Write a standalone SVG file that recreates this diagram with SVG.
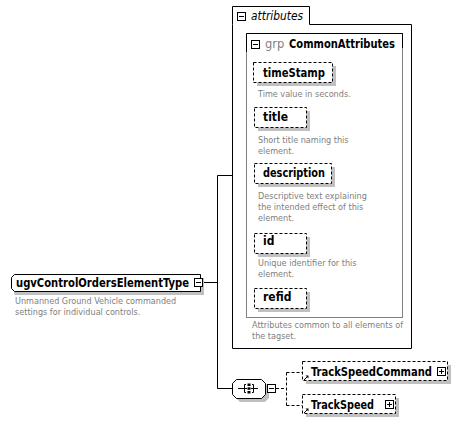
<svg xmlns="http://www.w3.org/2000/svg" width="463" height="424" viewBox="0 0 463 424">
<style>
.bold{font-family:"DejaVu Sans Condensed","DejaVu Sans",sans-serif;font-weight:bold;font-size:12px;fill:#000}
.desc{font-family:"DejaVu Sans Condensed","DejaVu Sans",sans-serif;font-size:9px;fill:#808080}
.shadow{fill:#c0c0c0}
.dnode{fill:#fff;stroke:#000;stroke-width:1;stroke-dasharray:3,2}
.box{fill:#fff;stroke:#000;stroke-width:1}
.ln{stroke:#000;stroke-width:1;fill:none}
.dl{stroke:#000;stroke-width:1;fill:none;stroke-dasharray:3,2}
</style>
<defs>
<g id="minus"><rect x="0.5" y="0.5" width="8" height="8" class="box"/><line x1="2" y1="4.5" x2="7" y2="4.5" class="ln"/></g>
<g id="plus"><rect x="0.5" y="0.5" width="8" height="8" class="box"/><line x1="2" y1="4.5" x2="7" y2="4.5" class="ln"/><line x1="4.5" y1="2" x2="4.5" y2="7" class="ln"/></g>
<g id="refarrow"><line x1="0" y1="5" x2="4" y2="1" stroke="#000" stroke-width="1"/><path d="M1.5,0.5 L4.5,0.5 L4.5,3.5 Z" fill="#000"/></g>
</defs>

<g id="connectors">
<line x1="203" y1="282.5" x2="217.5" y2="282.5" class="ln"/>
<line x1="217.5" y1="175.5" x2="217.5" y2="388.5" class="ln"/>
<line x1="217.5" y1="175.5" x2="232" y2="175.5" class="ln"/>
<line x1="217.5" y1="388.5" x2="232" y2="388.5" class="ln"/>
<line x1="276" y1="388.5" x2="286.5" y2="388.5" class="dl"/>
<line x1="286.5" y1="372.5" x2="286.5" y2="405.5" class="dl"/>
<line x1="286.5" y1="372.5" x2="302" y2="372.5" class="dl"/>
<line x1="286.5" y1="405.5" x2="302" y2="405.5" class="dl"/>
</g>

<g id="node-ugvControlOrdersElementType">
<path d="M15,278 L204,278 L204,295 L15,295 L14,294 L14,279 Z" class="shadow"/>
<path d="M14.5,274.5 L200.5,274.5 L200.5,291.5 L14.5,291.5 L11.5,288.5 L11.5,277.5 Z" class="box"/>
<text x="16" y="287" class="bold" textLength="173" lengthAdjust="spacingAndGlyphs">ugvControlOrdersElementType</text>
<use href="#minus" x="194" y="278"/>
<text x="15" y="304" class="desc">Unmanned Ground Vehicle commanded</text>
<text x="15" y="315" class="desc">settings for individual controls.</text>
</g>

<g id="node-attributes">
<path d="M232.5,24.5 L232.5,6.5 L309.5,6.5 L309.5,24.5 L411.5,24.5 L411.5,348.5 L232.5,348.5 Z" class="box"/>
<use href="#minus" x="237" y="12"/>
<text x="251" y="20" font-family="DejaVu Sans,sans-serif" font-style="italic" font-size="11.5" textLength="52" lengthAdjust="spacingAndGlyphs">attributes</text>
<text x="252" y="328" class="desc" textLength="151" lengthAdjust="spacingAndGlyphs">Attributes common to all elements of</text>
<text x="252" y="339" class="desc">the tagset.</text>
</g>

<g id="node-CommonAttributes">
<rect x="246.5" y="33.5" width="156" height="284" fill="#fff" stroke="#808080"/>
<path d="M246.5,52 L246.5,33.5 L402.5,33.5 L402.5,48" class="ln"/>
<use href="#minus" x="251" y="40"/>
<text x="265" y="48" font-family="DejaVu Sans,sans-serif" font-size="11.5" fill="#808080">grp</text>
<text x="289" y="48" class="bold" textLength="106" lengthAdjust="spacingAndGlyphs">CommonAttributes</text>
</g>

<g id="node-timeStamp">
<rect x="257" y="66" width="79" height="20" class="shadow"/>
<rect x="253.5" y="62.5" width="79" height="20" class="dnode"/>
<text x="263" y="77" class="bold" textLength="62" lengthAdjust="spacingAndGlyphs">timeStamp</text>
<text x="258" y="97" class="desc">Time value in seconds.</text>
</g>

<g id="node-title">
<rect x="258" y="111" width="52" height="20" class="shadow"/>
<rect x="254.5" y="107.5" width="52" height="20" class="dnode"/>
<text x="263" y="121" class="bold">title</text>
<text x="258" y="143" class="desc">Short title naming this</text>
<text x="258" y="154" class="desc">element.</text>
</g>

<g id="node-description">
<rect x="258" y="167" width="77" height="20" class="shadow"/>
<rect x="254.5" y="163.5" width="77" height="20" class="dnode"/>
<text x="263" y="177" class="bold" textLength="62" lengthAdjust="spacingAndGlyphs">description</text>
<text x="258" y="199" class="desc">Descriptive text explaining</text>
<text x="258" y="210" class="desc">the intended effect of this</text>
<text x="258" y="221" class="desc">element.</text>
</g>

<g id="node-id">
<rect x="258" y="237" width="52" height="20" class="shadow"/>
<rect x="254.5" y="233.5" width="52" height="20" class="dnode"/>
<text x="263" y="245" class="bold">id</text>
<text x="258" y="266" class="desc">Unique identifier for this</text>
<text x="258" y="277" class="desc">element.</text>
</g>

<g id="node-refid">
<rect x="258" y="292" width="52" height="20" class="shadow"/>
<rect x="254.5" y="288.5" width="52" height="20" class="dnode"/>
<text x="263" y="301" class="bold">refid</text>
</g>

<g id="node-sequence">
<path d="M240,383 L265,383 L269,387 L269,398 L265,402 L240,402 L236,398 L236,387 Z" class="shadow"/>
<path d="M236.5,379.5 L261.5,379.5 L265.5,383.5 L265.5,394.5 L261.5,398.5 L236.5,398.5 L232.5,394.5 L232.5,383.5 Z" class="box"/>
<line x1="238" y1="388.5" x2="258" y2="388.5" class="ln"/>
<path d="M246,384.5 L244.5,384.5 L244.5,392.5 L246,392.5 M252,384.5 L253.5,384.5 L253.5,392.5 L252,392.5" class="ln"/>
<rect x="247" y="383" width="4" height="12" fill="#fff"/>
<rect x="247.5" y="383.5" width="3" height="2.5" fill="#000"/>
<rect x="247.5" y="387.3" width="3" height="2.5" fill="#000"/>
<rect x="247.5" y="391" width="3" height="2.5" fill="#000"/>
<use href="#minus" x="267" y="384"/>
</g>

<g id="node-TrackSpeedCommand">
<rect x="306" y="365" width="145" height="19" class="shadow"/>
<rect x="302.5" y="361.5" width="145" height="19" class="dnode"/>
<use href="#refarrow" x="304" y="375"/>
<text x="311" y="376" class="bold" textLength="121" lengthAdjust="spacingAndGlyphs">TrackSpeedCommand</text>
<use href="#plus" x="437" y="367"/>
</g>

<g id="node-TrackSpeed">
<rect x="306" y="398" width="93" height="19" class="shadow"/>
<rect x="302.5" y="394.5" width="93" height="19" class="dnode"/>
<use href="#refarrow" x="304" y="408"/>
<text x="311" y="409" class="bold" textLength="63" lengthAdjust="spacingAndGlyphs">TrackSpeed</text>
<use href="#plus" x="385" y="400"/>
</g>
</svg>
